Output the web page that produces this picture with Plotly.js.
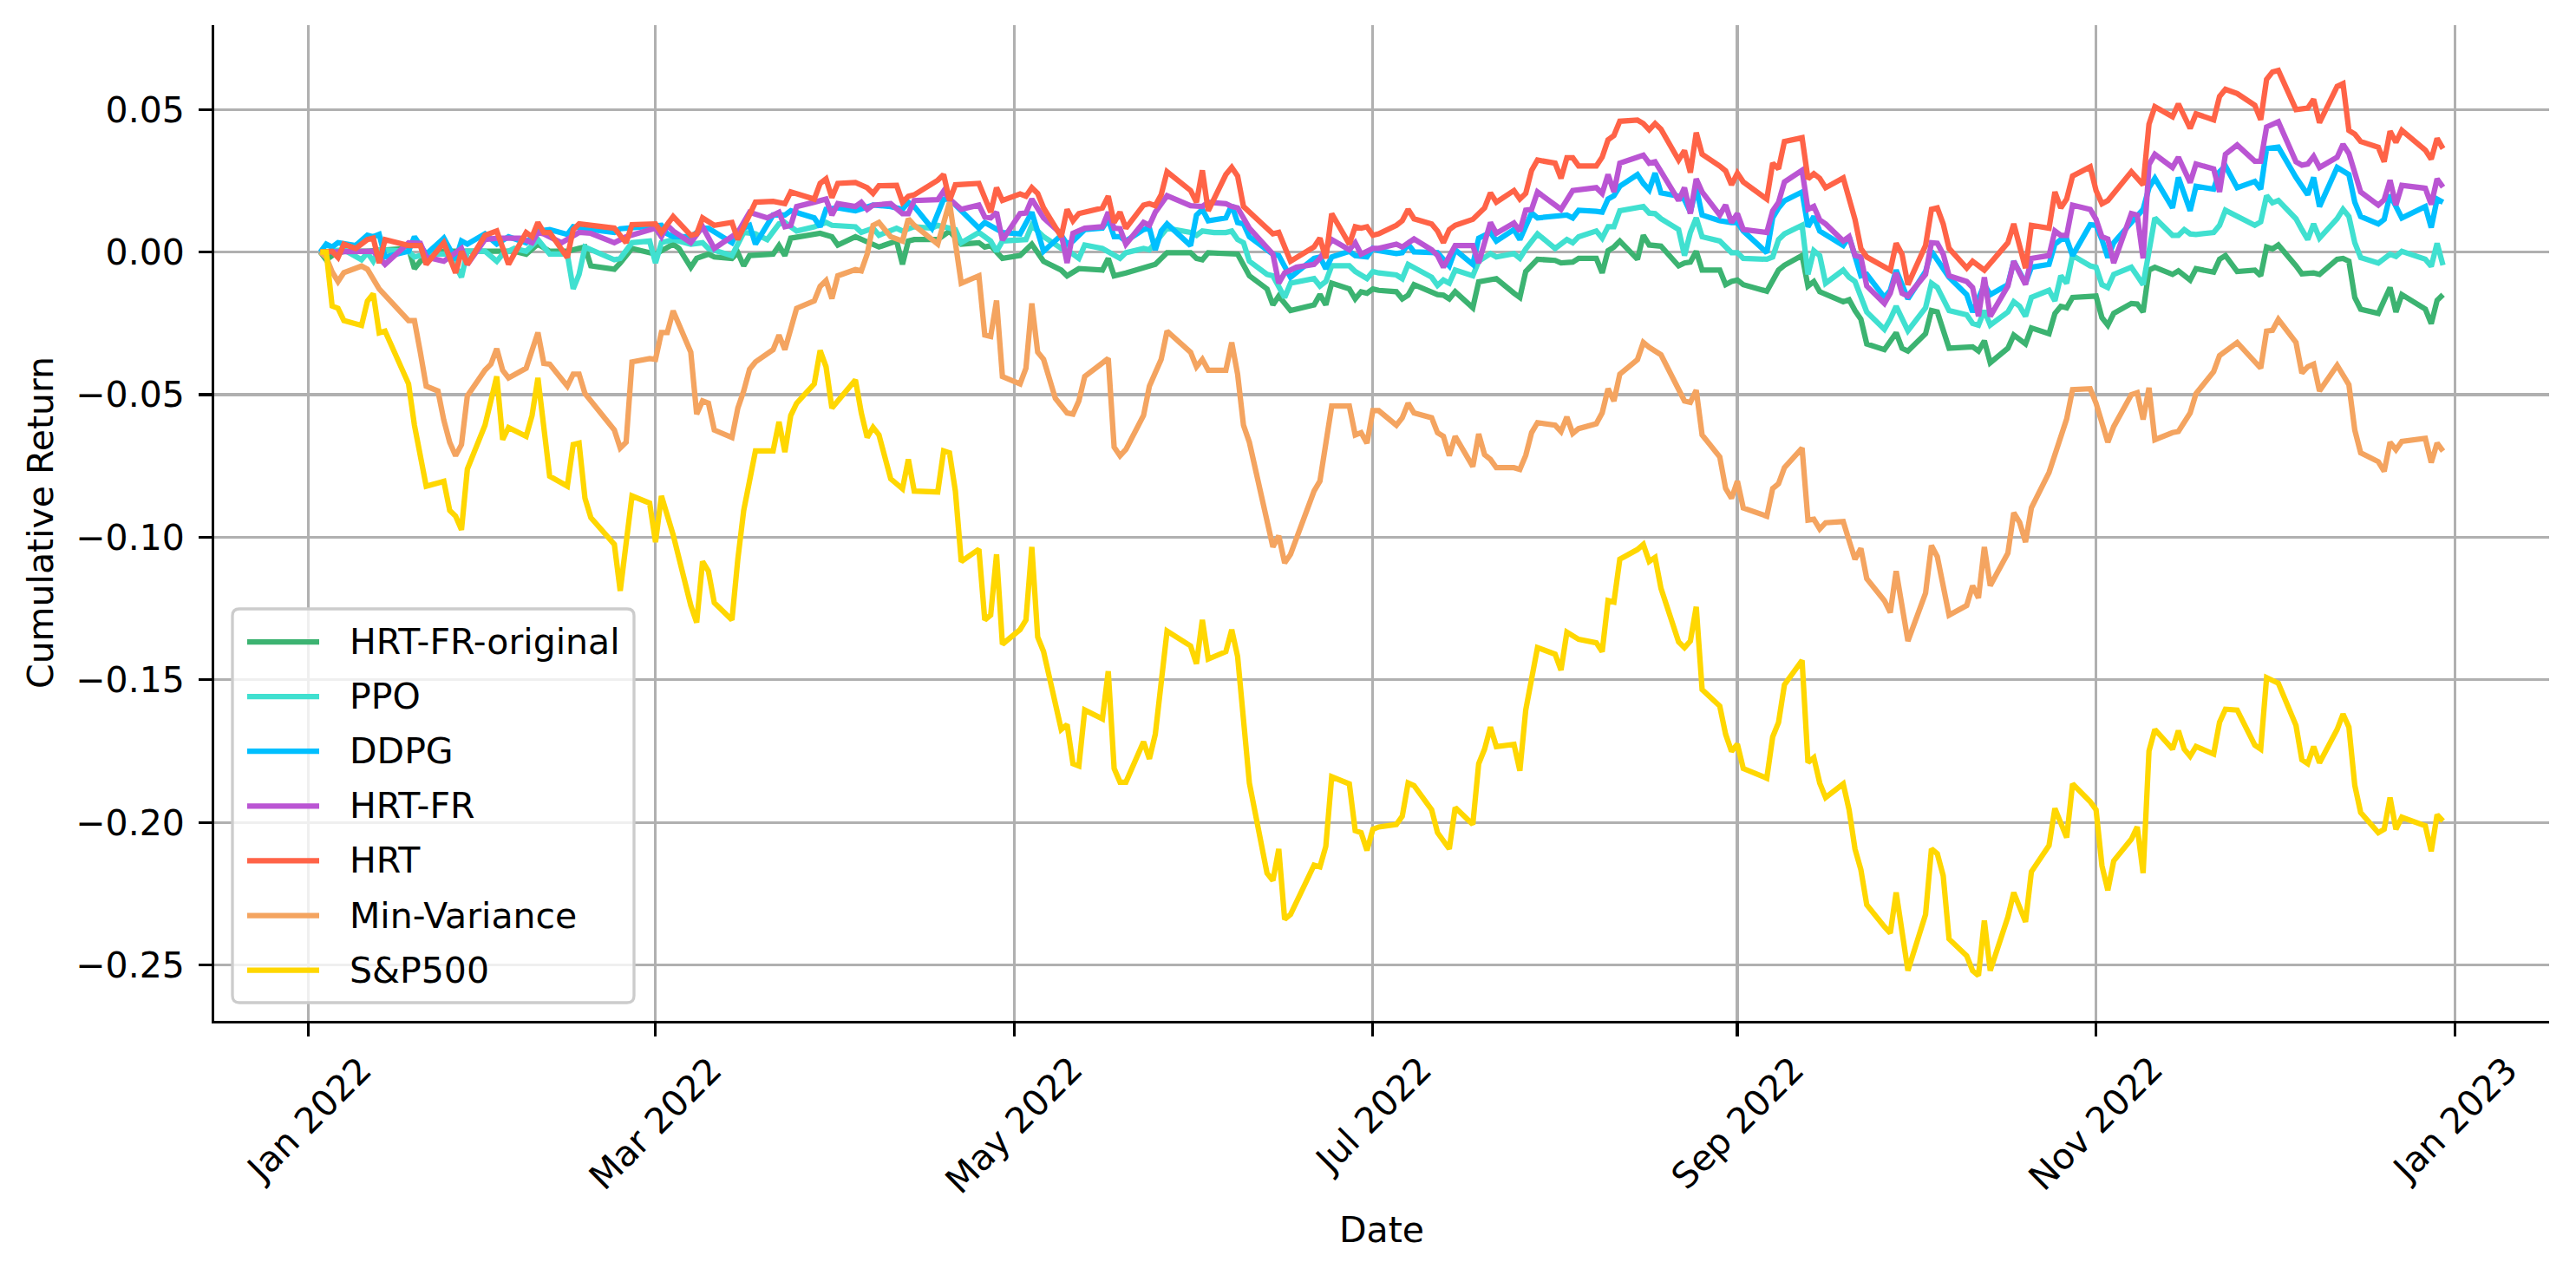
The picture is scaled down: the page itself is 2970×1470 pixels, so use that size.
<!DOCTYPE html>
<html>
<head>
<meta charset="utf-8">
<script src="https://cdn.plot.ly/plotly-3.0.1.min.js"></script>
<style>body{margin:0;background:#fff}</style>
</head>
<body>
<div id="plot"></div>
<script>
// x values are days counted from 1 Jan 2022, y values are cumulative returns

const origDays = [2,3,4,6,10,17,18,19,22,30,
35,37,39,41,44,46,47,48,52,53,
55,59,62,63,65,66,68,69,72,73,
74,75,79,80,81,82,86,87,89,90,
93,95,97,100,101,102,103,107,109,111,
114,115,116,118,121,123,125,128,129,131,
135,136,137,139,142,144,146,150,151,152,
153,157,158,160,163,164,165,167,171,172,
173,174,177,178,179,180,181,182,185,186,
187,188,191,192,193,194,195,198,199,202,
205,206,207,209,212,213,215,216,219,220,
221,222,223,226,227,228,230,233,234,235,
236,237,240,241,242,243,244,248,250,251,
254,255,256,257,261,262,263,264,265,268,
270,271,272,275,276,277,279,282,283,284,
285,286,289,290,292,293,296,297,298,299,
300,304,305,306,307,310,311,312,313,314,
317,318,320,321,324,325,326,328,331,332,
333,334,335,338,339,341,342,345,346,347,
348,349,352,353,354,355,356,360,361,362,
363];
const origRet = [0,-0.0027,-0.0012,0.0003,0.0003,0.0013,-0.0058,-0.0032,0.0003,0.0003,
0.0003,-0.0007,0.0028,0.0003,0.0003,0.0013,0.0018,-0.0048,-0.006,-0.0038,
0.0013,-0.0007,0.0028,0.0013,-0.0053,-0.0022,-0.0007,-0.0017,-0.0022,-0.0002,
-0.0048,-0.0012,-0.0007,0.0023,-0.0012,0.0049,0.0059,0.0066,0.0054,0.0025,
0.0054,0.0035,0.0018,0.0039,-0.0043,0.0039,0.0044,0.0044,0.0074,0.0028,
0.0033,0.0018,0.0023,-0.0022,-0.0012,0.0028,-0.0032,-0.0063,-0.0083,-0.0058,
-0.0063,-0.0022,-0.0083,-0.0073,-0.0053,-0.0043,-0.0002,-0.0002,-0.0022,-0.0027,
-0.0002,-0.0007,-0.0007,-0.0083,-0.0129,-0.0185,-0.0154,-0.0205,-0.0185,-0.0149,
-0.0185,-0.0109,-0.0129,-0.0164,-0.0139,-0.0144,-0.0129,-0.0134,-0.0139,-0.0164,
-0.0151,-0.0114,-0.0137,-0.0149,-0.0151,-0.0164,-0.0139,-0.0195,-0.0104,-0.0093,
-0.0144,-0.0159,-0.0068,-0.0025,-0.0029,-0.0038,-0.0035,-0.0022,-0.0022,-0.0073,
0.0005,0.0018,0.0039,-0.0025,0.0059,0.0025,0.0021,-0.0048,-0.0038,-0.0035,
0.0003,-0.0063,-0.0063,-0.0114,-0.0103,-0.0098,-0.0114,-0.0137,-0.0063,-0.0046,
-0.0012,-0.0119,-0.0103,-0.0139,-0.0174,-0.0167,-0.0205,-0.0235,-0.0322,-0.0342,
-0.0283,-0.0337,-0.0347,-0.0286,-0.0205,-0.021,-0.0337,-0.0332,-0.0332,-0.0347,
-0.0311,-0.0388,-0.0337,-0.0291,-0.0322,-0.0266,-0.0286,-0.0215,-0.019,-0.0195,
-0.0159,-0.0154,-0.023,-0.0256,-0.0215,-0.018,-0.0182,-0.021,-0.0063,-0.0053,
-0.0078,-0.0066,-0.0098,-0.0058,-0.007,-0.0025,-0.0012,-0.0068,-0.0063,-0.0083,
0.0018,0.0011,0.0025,-0.0048,-0.0076,-0.0073,-0.0078,-0.0025,-0.0022,-0.0032,
-0.0159,-0.02,-0.0215,-0.0169,-0.0124,-0.021,-0.0149,-0.02,-0.0251,-0.0169,
-0.0149];

const ppoDays = [2,4,6,9,10,11,12,17,18,20,
24,26,27,30,32,33,35,37,39,41,
44,45,46,47,52,53,55,58,59,60,
62,65,67,68,72,73,74,76,78,80,
81,83,86,88,89,93,94,96,97,100,
101,103,106,107,110,111,114,116,117,118,
122,123,125,128,129,131,132,135,138,139,
142,143,146,150,151,152,154,156,157,158,
159,160,163,164,166,167,171,172,173,174,
177,178,180,181,182,185,186,187,191,192,
193,194,195,198,199,201,202,205,206,207,
209,212,214,215,216,219,220,221,222,223,
227,228,229,230,233,234,235,236,237,240,
242,243,244,248,249,250,251,254,255,256,
257,258,261,262,263,265,268,269,270,272,
275,276,277,279,282,283,284,285,286,289,
290,291,292,293,296,297,298,299,300,303,
304,305,306,307,310,311,312,313,314,317,
318,319,320,321,324,325,326,331,332,333,
334,335,338,339,340,341,342,345,346,347,
348,349,352,354,355,356,360,361,362,363];
const ppoRet = [0,0.0003,0.0008,-0.0027,-0.0002,-0.0032,0.0008,0.0003,-0.0017,-0.0007,
-0.0007,-0.0088,0.0003,0.0003,-0.0032,-0.0007,0.0013,0.0003,0.0044,-0.0007,
-0.0007,-0.0129,-0.0078,0.0018,-0.0027,-0.0022,0.0033,0.0039,-0.0038,0.0033,
0.0044,0.0028,0.0033,0.0013,-0.0012,0.0028,0.0069,0.0064,0.0044,0.0099,
0.0104,0.0074,0.0089,0.0104,0.0094,0.0089,0.0069,0.0084,0.0059,0.0084,
0.0074,0.0089,0.0084,0.0094,0.0079,0.0033,0.0069,0.0039,0.0003,0.0039,
0.0044,0.0094,0.0054,0.0013,0.0008,-0.0022,0.0025,0.0013,-0.0022,-0.0002,
0.0013,0.0008,0.0084,0.0069,0.0059,0.0074,0.0069,0.0069,0.0074,0.0044,
0.0033,-0.0032,-0.0078,-0.0083,-0.0159,-0.0109,-0.0093,-0.0119,-0.0103,-0.0048,
-0.0048,-0.0068,-0.0093,-0.0068,-0.0073,-0.008,-0.0093,-0.0043,-0.0088,-0.0117,
-0.0098,-0.0109,-0.0063,-0.0083,-0.0032,-0.0005,-0.0017,-0.0005,-0.0022,0.0011,
0.0064,0.0013,0.0044,0.0033,0.0054,0.0074,0.0049,0.0089,0.0089,0.0145,
0.016,0.0137,0.0135,0.0117,0.0079,-0.0012,0.0069,0.012,0.0054,0.0039,
-0.0002,-0.0002,-0.0022,-0.0025,-0.0017,0.0044,0.0064,0.0094,-0.0078,0.0005,
-0.0012,-0.0109,-0.0063,-0.0088,-0.0103,-0.021,-0.0271,-0.0235,-0.019,-0.0276,
-0.0195,-0.0109,-0.0124,-0.0205,-0.022,-0.025,-0.0256,-0.0205,-0.0256,-0.021,
-0.0174,-0.019,-0.0225,-0.0159,-0.0134,-0.0171,-0.0083,-0.0109,-0.0012,-0.0048,
-0.0053,-0.0114,-0.0124,-0.0078,-0.0053,-0.0083,-0.0114,0.0003,0.012,0.0059,
0.0059,0.0079,0.0064,0.0062,0.0069,0.0094,0.0147,0.0094,0.0106,0.0198,
0.0173,0.0181,0.0117,0.0079,0.0044,0.0099,0.0049,0.0117,0.015,0.0125,
0.0033,-0.0019,-0.0038,-0.0007,-0.0015,0.0003,-0.0025,-0.005,0.0031,-0.0046];

const ddpgDays = [2,3,4,5,8,10,11,12,13,17,
18,20,23,25,26,27,30,32,34,37,
39,41,44,45,48,52,53,59,60,61,
62,65,67,68,72,73,75,76,79,81,
82,86,87,88,90,93,96,99,101,102,
103,106,108,109,114,115,118,121,123,125,
128,129,130,132,135,136,137,138,139,142,
143,144,145,146,150,151,152,153,156,157,
158,159,160,164,165,167,171,172,173,174,
177,178,180,181,182,185,186,187,188,192,
193,194,195,198,199,201,202,205,206,208,
209,212,214,215,216,219,220,221,222,223,
226,227,228,229,230,233,234,235,236,237,
240,242,243,244,248,249,250,251,254,255,
256,257,261,262,263,264,265,268,269,270,
272,275,276,279,282,283,285,286,289,290,
292,293,296,297,298,299,300,303,304,305,
306,307,310,311,312,313,314,317,318,320,
321,324,325,326,328,331,332,333,335,338,
340,341,342,345,347,348,349,352,353,354,
356,360,361,362,363];
const ddpgRet = [0,0.0028,0.0018,0.0033,0.0023,0.0059,0.0054,0.0062,-0.0017,0.0003,
0.0054,-0.0007,0.0049,-0.0027,0.0039,0.0028,0.0064,0.0028,0.0054,0.0033,
0.0074,0.0079,0.0062,0.0089,0.0079,0.0069,0.0082,0.0089,0.0094,0.0064,
0.0054,0.0054,0.0084,0.0084,0.0033,0.0074,0.0094,0.0028,0.013,0.013,
0.0145,0.012,0.0089,0.015,0.0155,0.0145,0.0165,0.016,0.015,0.0175,
0.016,0.0084,0.0186,0.0186,0.0084,0.0104,0.0069,0.0064,0.014,0.0003,
0.0059,0.0028,0.0039,0.0079,0.0084,0.0115,0.0054,0.0054,0.0039,0.0079,
0.0084,0.0008,0.0074,0.0099,0.0023,0.013,0.015,0.011,0.012,0.0165,
0.0104,0.0099,0.0054,-0.0007,-0.0012,-0.0088,-0.0022,-0.0017,-0.0058,-0.0017,
0.0003,-0.0012,-0.0017,0.0013,0.0005,-0.0005,-0.0002,0.0028,0.0001,-0.0002,
-0.0022,-0.0048,0.0008,-0.0043,0.0049,0.0069,0.0039,0.0079,0.0044,0.0137,
0.012,0.0127,0.013,0.012,0.0147,0.0143,0.014,0.0186,0.0198,0.0231,
0.0272,0.0241,0.0218,0.0277,0.0208,0.0196,0.0184,0.014,0.0226,0.013,
0.011,0.0104,0.0104,0.0074,-0.0002,0.012,0.0155,0.018,0.0211,0.0089,
0.0125,0.0074,0.0023,0.0054,-0.0012,-0.0083,-0.0078,-0.0159,-0.0134,-0.0063,
-0.0164,-0.0068,0.0003,-0.0088,-0.0149,-0.021,-0.0114,-0.0149,-0.0114,-0.0032,
-0.0109,-0.0053,-0.0043,0.0028,0.0044,0.0046,-0.0012,0.0096,0.0094,0.0044,
-0.0019,0.0033,0.0104,0.0125,0.015,0.0226,0.0259,0.0155,0.0262,0.0145,
0.0231,0.0221,0.0282,0.0302,0.0226,0.0248,0.0221,0.0363,0.0368,0.0262,
0.0201,0.0262,0.016,0.0297,0.0272,0.0175,0.0125,0.0099,0.0115,0.0201,
0.012,0.016,0.0086,0.0186,0.0175];

const hrtFrDays = [2,6,11,13,17,19,20,23,26,27,
30,32,36,38,39,40,43,46,48,52,
54,59,60,61,62,65,66,67,69,72,
73,75,78,80,81,82,83,86,88,89,
90,93,94,95,96,99,101,102,103,107,
108,109,111,114,115,116,117,118,121,122,
123,125,128,129,130,132,135,136,137,138,
139,142,143,144,146,150,152,153,156,157,
158,160,164,165,166,168,171,172,173,174,
177,178,179,180,181,182,185,186,188,191,
192,193,195,198,199,201,202,205,206,207,
208,209,212,213,215,219,220,221,222,223,
226,227,228,229,233,234,235,236,237,240,
241,242,243,244,248,249,250,251,254,255,
256,257,258,261,262,263,264,265,268,269,
270,271,272,275,276,277,278,279,282,283,
284,285,286,289,290,292,293,296,297,298,
299,300,303,304,305,306,307,310,311,312,
313,314,317,318,320,321,324,325,326,328,
331,332,333,335,338,339,340,341,342,345,
346,347,349,352,353,354,355,356,360,361,
362,363];
const hrtFrRet = [0,0.0003,0.0003,-0.0043,0.0033,0.0031,-0.0017,-0.0032,0.0013,-0.0043,
0.0044,0.0049,0.0049,0.0033,0.0069,0.0064,0.0033,0.0069,0.0066,0.0033,
0.0054,0.0084,0.0054,0.0094,0.0074,0.0033,0.0059,0.0089,0.0013,0.0054,
0.0069,0.014,0.012,0.014,0.0089,0.0094,0.016,0.0175,0.0186,0.013,
0.017,0.016,0.0175,0.015,0.0165,0.017,0.0135,0.0135,0.0181,0.0184,
0.0214,0.0186,0.015,0.0165,0.0123,0.012,0.014,0.0042,0.0135,0.0137,
0.0186,0.012,0.0064,-0.0038,0.0066,0.0084,0.0089,0.014,0.0084,0.0082,
0.0028,0.0104,0.0094,0.014,0.0198,0.0163,0.016,0.0175,0.017,0.016,
0.0155,0.0084,-0.0007,-0.0109,-0.0073,-0.0053,-0.0043,-0.0022,0.0008,0.0044,
0.0008,0.0033,-0.0007,0.0003,0.0013,0.0013,0.0028,0.0018,0.0046,0.0008,
-0.0012,-0.0053,0.0023,0.0023,-0.0038,0.0104,0.0066,0.0102,0.0074,0.0147,
0.015,0.0211,0.0165,0.015,0.0216,0.0226,0.0206,0.0272,0.0211,0.0312,
0.0333,0.034,0.0312,0.0317,0.0181,0.0226,0.0135,0.0257,0.0211,0.013,
0.0165,0.0104,0.0135,0.0079,0.0069,0.0145,0.0175,0.0246,0.0287,0.015,
0.016,0.0113,0.0099,0.0039,0.0054,-0.0012,-0.0017,-0.0119,-0.018,-0.0144,
-0.0073,-0.0144,-0.0154,-0.0078,0.0033,0.0031,-0.0007,-0.0083,-0.0103,-0.0124,
-0.0225,-0.0088,-0.0225,-0.0119,-0.0032,-0.0114,-0.0022,-0.0012,0.0074,0.0059,
0.0059,0.0165,0.015,0.0115,0.0054,0.0046,-0.0038,0.0135,0.013,-0.0022,
0.0307,0.0343,0.0297,0.0333,0.0244,0.0309,0.0292,0.0211,0.0343,0.0376,
0.0319,0.0319,0.0439,0.0457,0.0317,0.0305,0.0309,0.0336,0.0297,0.0333,
0.0378,0.0346,0.0211,0.0165,0.0184,0.0252,0.0165,0.0234,0.0224,0.0167,
0.0257,0.0228];

const hrtDays = [2,4,5,6,8,10,11,12,13,17,
19,20,23,25,26,27,30,32,34,37,
38,39,40,41,44,45,46,52,54,55,
59,60,62,65,66,67,69,72,73,75,
76,79,81,82,86,87,88,89,90,93,
95,96,97,100,101,102,103,107,108,109,
110,114,116,117,118,121,122,123,124,125,
128,129,130,131,135,136,137,138,139,142,
143,144,145,146,150,151,152,153,156,157,
158,159,164,165,167,171,172,173,174,177,
178,179,180,181,182,185,186,187,188,191,
192,193,194,195,198,200,201,202,205,206,
207,208,209,212,213,214,215,216,219,220,
221,222,223,226,227,228,229,230,233,234,
235,236,237,240,241,242,243,244,248,249,
250,251,254,255,256,257,258,261,262,263,
264,265,269,270,271,272,275,276,277,278,
279,282,283,285,289,290,292,293,296,297,
298,299,300,303,304,305,306,310,312,313,
314,317,318,320,321,324,325,326,328,331,
332,333,334,335,338,340,341,342,345,346,
347,348,349,352,353,354,355,356,360,361,
362,363];
const hrtRet = [0,0.0003,-0.0019,0.0028,0.0013,0.0044,0.0049,-0.0038,0.0044,0.0023,
0.0023,-0.0043,0.0033,-0.0073,0.0003,-0.0043,0.0059,0.0074,-0.0043,0.0069,
0.0054,0.0104,0.0069,0.0069,-0.0019,0.0079,0.0099,0.0084,0.0033,0.0096,
0.0099,0.0069,0.0125,0.0059,0.0064,0.012,0.0094,0.0104,0.0044,0.013,
0.0175,0.0178,0.017,0.0211,0.0186,0.0241,0.0257,0.0191,0.0241,0.0244,
0.0226,0.0206,0.0233,0.0234,0.0175,0.0196,0.0201,0.0252,0.0272,0.0181,
0.0236,0.0241,0.014,0.0226,0.0181,0.0204,0.0196,0.0226,0.0206,0.0155,
0.0054,0.015,0.011,0.0135,0.0155,0.0196,0.0104,0.014,0.0084,0.0165,
0.017,0.0163,0.0201,0.0282,0.0216,0.0175,0.0287,0.0145,0.0272,0.0297,
0.0267,0.016,0.0064,0.0069,-0.0032,0.0018,0.0049,-0.0022,0.0135,0.0028,
0.0089,0.0084,0.0089,0.0059,0.0064,0.0094,0.011,0.015,0.0117,0.0099,
0.0074,0.0033,0.0079,0.0094,0.0115,0.0155,0.0208,0.0175,0.0216,0.0186,
0.0206,0.0287,0.0323,0.0312,0.0259,0.0331,0.0331,0.0302,0.0302,0.0333,
0.0394,0.0409,0.0459,0.0463,0.0451,0.0429,0.0451,0.0431,0.0323,0.0356,
0.0279,0.0419,0.0343,0.0302,0.0285,0.0236,0.0277,0.0246,0.0186,0.0312,
0.0292,0.0388,0.0401,0.0257,0.0275,0.0259,0.0226,0.026,0.0186,0.0115,
0.0013,-0.0017,-0.0063,0.0031,-0.0007,-0.0114,0.0023,0.015,0.0155,0.0099,
0.0013,-0.0056,-0.0032,-0.0063,0.0033,0.0099,-0.0056,0.0094,0.0084,0.0211,
0.0155,0.0186,0.0267,0.0299,0.0216,0.017,0.0181,0.0282,0.0236,0.0449,
0.051,0.0475,0.052,0.0434,0.0485,0.0464,0.0546,0.0571,0.0556,0.0515,
0.0464,0.0606,0.0632,0.0637,0.05,0.0505,0.0536,0.0454,0.0581,0.0591,
0.0427,0.0414,0.0388,0.0368,0.0317,0.0424,0.0385,0.0427,0.0358,0.0326,
0.0399,0.0363];

const minVarDays = [2,3,4,5,6,9,10,12,17,18,
19,20,22,23,24,25,26,27,30,31,
32,33,34,37,39,40,41,44,45,46,
47,52,53,54,55,58,59,60,61,62,
65,66,67,68,69,72,73,74,75,76,
79,80,81,83,86,87,88,89,90,93,
94,95,96,97,99,101,102,103,107,109,
111,114,115,116,117,118,121,122,123,124,
125,127,129,130,131,132,136,137,138,139,
142,143,145,146,150,151,152,153,156,157,
158,159,160,164,165,166,167,171,172,174,
177,178,179,180,181,182,185,186,187,188,
191,192,193,194,195,198,199,200,201,202,
205,206,207,208,209,212,213,214,215,216,
219,220,221,222,223,226,227,228,230,233,
234,235,236,237,240,241,242,243,244,248,
249,250,251,254,255,256,257,258,261,262,
263,264,265,268,269,270,271,272,275,276,
277,279,282,283,284,285,286,289,290,291,
292,293,296,298,299,300,303,304,305,306,
307,310,311,312,313,314,317,318,320,321,
324,325,328,331,332,333,334,335,338,339,
340,341,342,345,347,348,349,352,353,354,
355,356,360,361,362,363];
const minVarRet = [0,-0.0018,-0.0069,-0.0103,-0.0072,-0.0049,-0.006,-0.0129,-0.024,-0.024,
-0.0351,-0.047,-0.0487,-0.059,-0.0667,-0.0714,-0.0675,-0.0504,-0.0414,-0.0393,
-0.0339,-0.0414,-0.0441,-0.0407,-0.0282,-0.039,-0.0393,-0.047,-0.0428,-0.0428,
-0.0496,-0.0624,-0.0687,-0.0667,-0.0385,-0.0373,-0.0376,-0.0282,-0.0282,-0.0206,
-0.0351,-0.0568,-0.0522,-0.053,-0.0624,-0.065,-0.0547,-0.0487,-0.0411,-0.0385,
-0.0342,-0.0291,-0.0342,-0.0197,-0.0171,-0.012,-0.01,-0.0163,-0.0083,-0.0061,
-0.0066,-0.0007,0.0094,0.0104,0.0054,0.0039,0.0117,0.0094,0.0028,0.0175,
-0.0109,-0.0083,-0.0291,-0.0296,-0.017,-0.0436,-0.0462,-0.0407,-0.018,-0.0351,
-0.0376,-0.0513,-0.0564,-0.0568,-0.0522,-0.0436,-0.0373,-0.0684,-0.0714,-0.0692,
-0.0573,-0.047,-0.0376,-0.0277,-0.0351,-0.0402,-0.0376,-0.0414,-0.0414,-0.0317,
-0.0428,-0.0607,-0.0667,-0.1034,-0.0995,-0.109,-0.106,-0.0838,-0.0803,-0.054,
-0.054,-0.0641,-0.0633,-0.067,-0.0556,-0.0556,-0.0607,-0.0581,-0.053,-0.0564,
-0.0581,-0.0633,-0.0646,-0.0714,-0.0646,-0.0752,-0.0638,-0.071,-0.0727,-0.0756,
-0.0756,-0.0762,-0.0713,-0.0633,-0.0598,-0.0607,-0.0629,-0.0578,-0.0636,-0.0619,
-0.0602,-0.0564,-0.0479,-0.0522,-0.0428,-0.0377,-0.0317,-0.0334,-0.036,-0.0479,
-0.0522,-0.0527,-0.0484,-0.0641,-0.0718,-0.0829,-0.0863,-0.0803,-0.0897,-0.0926,
-0.0829,-0.0812,-0.0756,-0.0687,-0.094,-0.0937,-0.0971,-0.0949,-0.0945,-0.1012,
-0.1077,-0.1039,-0.1145,-0.1222,-0.1264,-0.1119,-0.1239,-0.1364,-0.1196,-0.1029,
-0.1068,-0.1273,-0.1239,-0.117,-0.1213,-0.1034,-0.117,-0.1056,-0.0914,-0.0948,
-0.1017,-0.0897,-0.0773,-0.0641,-0.0585,-0.0482,-0.0479,-0.053,-0.0599,-0.0667,
-0.0612,-0.05,-0.0493,-0.0587,-0.0476,-0.0658,-0.0633,-0.0629,-0.0564,-0.0496,
-0.0419,-0.0363,-0.0317,-0.038,-0.0407,-0.0277,-0.0274,-0.0236,-0.0317,-0.0424,
-0.0402,-0.0393,-0.0487,-0.0397,-0.0465,-0.0624,-0.0704,-0.0735,-0.0769,-0.0667,
-0.0693,-0.0664,-0.0653,-0.0738,-0.067,-0.0698];

const spDays = [2,3,4,5,6,9,10,11,12,13,
17,18,20,23,24,25,26,27,30,32,
33,34,37,38,39,41,44,45,46,47,
48,52,53,54,55,58,59,60,62,65,
66,67,68,69,72,73,74,76,79,80,
81,82,83,86,87,88,89,93,94,95,
96,97,99,101,102,103,107,108,109,110,
111,114,115,116,117,118,121,122,123,124,
125,128,129,130,131,132,135,136,137,138,
139,142,143,144,146,150,151,152,153,156,
157,158,160,163,164,165,166,167,171,172,
173,174,177,178,179,180,181,182,185,186,
187,188,191,192,193,194,195,198,199,200,
201,202,205,206,207,208,209,212,213,214,
216,219,220,221,222,223,226,227,228,229,
230,233,234,235,236,237,240,241,242,243,
244,248,249,250,251,254,255,256,257,258,
261,262,263,264,265,268,269,270,271,272,
275,276,277,278,279,282,283,284,285,286,
289,290,292,293,296,297,299,300,303,304,
305,306,307,310,311,312,313,314,317,318,
319,320,321,324,325,326,328,331,332,333,
335,338,339,340,341,342,345,346,347,348,
349,352,353,354,355,356,360,361,362,363];
const spRet = [0,0,-0.0189,-0.0197,-0.024,-0.0257,-0.0172,-0.0146,-0.0283,-0.0277,
-0.0462,-0.0607,-0.0821,-0.0804,-0.0906,-0.0926,-0.0974,-0.0761,-0.0607,-0.0436,
-0.0658,-0.0615,-0.0646,-0.0573,-0.0441,-0.0786,-0.0821,-0.0675,-0.067,-0.0863,
-0.0931,-0.1025,-0.1188,-0.1034,-0.0855,-0.088,-0.1017,-0.0855,-0.0991,-0.1239,
-0.1299,-0.1085,-0.1119,-0.123,-0.129,-0.1077,-0.0906,-0.0697,-0.0697,-0.0595,
-0.0701,-0.0573,-0.053,-0.0462,-0.0345,-0.0402,-0.0547,-0.0448,-0.0564,-0.065,
-0.0615,-0.0641,-0.0795,-0.083,-0.0727,-0.0838,-0.0841,-0.0697,-0.0704,-0.0838,
-0.1085,-0.1042,-0.129,-0.1273,-0.106,-0.1375,-0.1324,-0.129,-0.1034,-0.135,
-0.1401,-0.1674,-0.1657,-0.1794,-0.1802,-0.1606,-0.1637,-0.147,-0.1811,-0.1859,
-0.1859,-0.1717,-0.1777,-0.1691,-0.1329,-0.1381,-0.1444,-0.129,-0.1427,-0.1401,
-0.1324,-0.1418,-0.1862,-0.2178,-0.2204,-0.2093,-0.234,-0.2323,-0.215,-0.2156,
-0.2084,-0.184,-0.1865,-0.2029,-0.2036,-0.2098,-0.2024,-0.2016,-0.2007,-0.1978,
-0.1862,-0.1871,-0.1956,-0.2036,-0.2067,-0.2093,-0.1948,-0.2007,-0.1794,-0.1743,
-0.1666,-0.1734,-0.1726,-0.1819,-0.1606,-0.1495,-0.1387,-0.141,-0.1466,-0.1333,
-0.1358,-0.137,-0.1401,-0.1222,-0.1227,-0.1077,-0.1043,-0.1025,-0.1085,-0.1071,
-0.1179,-0.1367,-0.1387,-0.1364,-0.1244,-0.1534,-0.1592,-0.1691,-0.1751,-0.1726,
-0.1811,-0.1845,-0.17,-0.1649,-0.1517,-0.1432,-0.179,-0.1773,-0.1862,-0.1913,
-0.1865,-0.1956,-0.2093,-0.2166,-0.2289,-0.2366,-0.2388,-0.2246,-0.24,-0.252,
-0.2323,-0.2093,-0.211,-0.2187,-0.2409,-0.2468,-0.252,-0.2537,-0.2344,-0.252,
-0.2332,-0.2246,-0.2349,-0.2173,-0.2081,-0.1951,-0.2053,-0.1865,-0.1927,-0.1956,
-0.2152,-0.2238,-0.2135,-0.2059,-0.2016,-0.2178,-0.175,-0.1674,-0.1743,-0.1678,
-0.1743,-0.1768,-0.1734,-0.176,-0.1649,-0.1603,-0.1606,-0.1729,-0.1743,-0.1492,
-0.1512,-0.166,-0.178,-0.1794,-0.1734,-0.1791,-0.1674,-0.162,-0.1666,-0.187,
-0.1965,-0.2036,-0.2024,-0.1913,-0.2024,-0.1982,-0.2012,-0.2101,-0.1973,-0.1995];

const seriesNames = ['HRT-FR-original', 'PPO', 'DDPG', 'HRT-FR', 'HRT', 'Min-Variance', 'S&P500'];
const seriesColors = ['#3CB371', '#40E0D0', '#00BFFF', '#BA55D3', '#FF6347', '#F4A460', '#FFD700'];
const seriesDays = [origDays, ppoDays, ddpgDays, hrtFrDays, hrtDays, minVarDays, spDays];
const seriesRet = [origRet, ppoRet, ddpgRet, hrtFrRet, hrtRet, minVarRet, spRet];

const tickDates = ['2022-01-01', '2022-03-01', '2022-05-01', '2022-07-01', '2022-09-01', '2022-11-01', '2023-01-01'];
const tickLabels = ['Jan 2022', 'Mar 2022', 'May 2022', 'Jul 2022', 'Sep 2022', 'Nov 2022', 'Jan 2023'];
const yTicks = [-0.25, -0.2, -0.15, -0.1, -0.05, 0, 0.05];

// figure geometry (pixels)
const W = 2970, H = 1470;
const ML = 247, MR = 31, MT = 29, MB = 293;
const PW = W - ML - MR, PH = H - MT - MB;
const FS = 41;
const DAY = 86400000;
const T0 = Date.UTC(2022, 0, 1);

function toDate(d) {
  return new Date(T0 + d * DAY).toISOString().slice(0, 10);
}
// pixel position -> paper coordinates
const px = x => (x - ML) / PW;
const py = y => (H - MB - y) / PH;

const traces = seriesNames.map((name, i) => ({
  x: seriesDays[i].map(toDate),
  y: seriesRet[i],
  type: 'scatter',
  mode: 'lines',
  name: name,
  line: {color: seriesColors[i], width: 6.25},
  hoverinfo: 'skip'
}));

const annotations = [];
const shapes = [];

// rotated date labels, centred under each tick like matplotlib
tickDates.forEach((d, i) => {
  annotations.push({
    x: d, xref: 'x', y: 0, yref: 'paper',
    text: tickLabels[i], textangle: -45,
    xanchor: 'center', yanchor: 'top', yshift: -29,
    showarrow: false, font: {size: FS, color: '#000'}
  });
});

annotations.push({
  x: 0.5, xref: 'paper', y: 0, yref: 'paper', yshift: -241,
  text: 'Date', showarrow: false, xanchor: 'center', yanchor: 'middle',
  font: {size: FS, color: '#000'}
});
annotations.push({
  x: 0, xref: 'paper', y: 0.5, yref: 'paper', xshift: -200,
  text: 'Cumulative Return', textangle: -90, showarrow: false,
  xanchor: 'center', yanchor: 'middle', font: {size: FS, color: '#000'}
});

// legend box (lower left, rounded frame)
const lx0 = px(268), lx1 = px(731), lyb = py(1156), lyt = py(702);
const rx = 8 / PW, ry = 8 / PH;
shapes.push({
  type: 'path', xref: 'paper', yref: 'paper', layer: 'above',
  path: `M ${lx0 + rx},${lyb} L ${lx1 - rx},${lyb} Q ${lx1},${lyb} ${lx1},${lyb + ry} ` +
        `L ${lx1},${lyt - ry} Q ${lx1},${lyt} ${lx1 - rx},${lyt} L ${lx0 + rx},${lyt} ` +
        `Q ${lx0},${lyt} ${lx0},${lyt - ry} L ${lx0},${lyb + ry} Q ${lx0},${lyb} ${lx0 + rx},${lyb} Z`,
  fillcolor: 'rgba(255,255,255,0.8)',
  line: {color: '#cccccc', width: 3.3}
});
seriesNames.forEach((name, i) => {
  const rowY = 740 + i * 63.1;
  shapes.push({
    type: 'line', xref: 'paper', yref: 'paper', layer: 'above',
    x0: px(285), x1: px(368), y0: py(rowY), y1: py(rowY),
    line: {color: seriesColors[i], width: 6.25}
  });
  annotations.push({
    x: px(401), xref: 'paper', y: py(rowY), yref: 'paper',
    text: name.replace('&', '&amp;'), showarrow: false,
    xanchor: 'left', yanchor: 'middle', font: {size: FS, color: '#000'}
  });
});

const layout = {
  width: W, height: H,
  margin: {l: ML, r: MR, t: MT, b: MB, pad: 0},
  paper_bgcolor: '#fff', plot_bgcolor: '#fff',
  font: {family: 'DejaVu Sans', size: FS, color: '#000'},
  showlegend: false,
  xaxis: {
    type: 'date',
    range: [T0 - 16.05 * DAY, T0 + 381.05 * DAY],
    tickmode: 'array', tickvals: tickDates, showticklabels: false,
    ticks: 'outside', ticklen: 14.6, tickwidth: 3.3, tickcolor: '#000',
    showline: true, linecolor: '#000', linewidth: 3.3,
    showgrid: true, gridcolor: '#b0b0b0', gridwidth: 3.3,
    zeroline: false
  },
  yaxis: {
    range: [-0.2696, 0.0796],
    tickmode: 'array', tickvals: yTicks, tickformat: '.2f',
    ticks: 'outside', ticklen: 14.6, tickwidth: 3.3, tickcolor: '#000',
    ticklabelstandoff: 8,
    tickfont: {size: FS, color: '#000'},
    showline: true, linecolor: '#000', linewidth: 3.3,
    showgrid: true, gridcolor: '#b0b0b0', gridwidth: 3.3,
    zeroline: false
  },
  annotations: annotations,
  shapes: shapes
};

Plotly.newPlot('plot', traces, layout, {staticPlot: true, displayModeBar: false});
</script>
</body>
</html>
